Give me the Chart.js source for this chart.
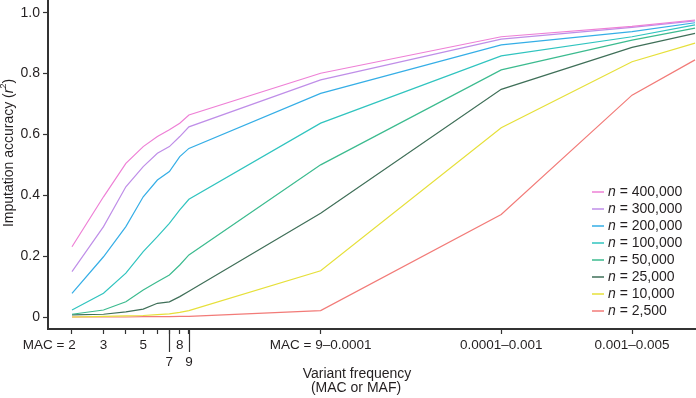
<!DOCTYPE html>
<html>
<head>
<meta charset="utf-8">
<script src="https://cdn.jsdelivr.net/npm/chart.js@4/dist/chart.umd.min.js"></script>
<style>
  html, body { margin: 0; padding: 0; background: #fff; }
  #wrap { width: 696px; height: 398px; position: relative; }
</style>
</head>
<body>
<div id="wrap"><canvas id="accChart"></canvas></div>
<script>
// x categories (MAC or MAF bins), placed on a log axis by their MAC-equivalent value
const binLabels = ['MAC = 2', '3', '', '5', '', '7', '8', '9', 'MAC = 9\u20130.0001', '0.0001\u20130.001', '0.001\u20130.005', ''];
const binValues = [2, 3, 4, 5, 6, 7, 8, 9, 49, 500, 2690, 6050];
const yTicks = [0, 0.2, 0.4, 0.6, 0.8, 1.0];

const seriesNames = ['400,000', '300,000', '200,000', '100,000', '50,000', '25,000', '10,000', '2,500'];
const seriesColors = ['#ee80d6', '#bf8ee8', '#35aee6', '#30c4bf', '#3cbb8f', '#3f6f58', '#e6e03a', '#f27b78'];

const n400k = [0.231, 0.395, 0.505, 0.560, 0.593, 0.615, 0.637, 0.664, 0.801, 0.921, 0.955, 0.976];
const n300k = [0.149, 0.297, 0.428, 0.494, 0.538, 0.560, 0.593, 0.625, 0.779, 0.913, 0.952, 0.973];
const n200k = [0.078, 0.198, 0.297, 0.395, 0.450, 0.478, 0.527, 0.554, 0.735, 0.894, 0.938, 0.967];
const n100k = [0.023, 0.078, 0.144, 0.215, 0.264, 0.308, 0.352, 0.387, 0.637, 0.858, 0.921, 0.960];
const n50k  = [0.009, 0.023, 0.050, 0.089, 0.116, 0.138, 0.171, 0.204, 0.500, 0.812, 0.910, 0.949];
const n25k  = [0.007, 0.009, 0.017, 0.026, 0.045, 0.050, 0.067, 0.085, 0.341, 0.748, 0.886, 0.932];
const n10k  = [0.000, 0.002, 0.004, 0.005, 0.008, 0.010, 0.015, 0.021, 0.152, 0.622, 0.839, 0.900];
const n2500 = [0.000, 0.000, 0.000, 0.001, 0.001, 0.001, 0.002, 0.002, 0.021, 0.337, 0.729, 0.845];
const seriesData = [n400k, n300k, n200k, n100k, n50k, n25k, n10k, n2500];

const FONT = '"Liberation Sans", Arial, Helvetica, sans-serif';
const INK = '#231f20';
const AXIS = '#333333';
const dropped = ['7', '9']; // labels hung below a long tick

const datasets = seriesData.map((vals, i) => ({
    label: 'n = ' + seriesNames[i],
    data: vals.map((v, j) => ({ x: binValues[j], y: v })),
    borderColor: seriesColors[i],
    backgroundColor: seriesColors[i],
    borderWidth: 1.2,
    pointRadius: 0,
    tension: 0,
    fill: false
}));

// x tick labels, long ticks, axis titles and legend
const decorPlugin = {
    id: 'decor',
    afterDraw(chart) {
        const ctx = chart.ctx;
        const xs = chart.scales.x;
        const area = chart.chartArea;
        ctx.save();
        ctx.fillStyle = INK;
        ctx.textBaseline = 'middle';
        ctx.font = '13.5px ' + FONT;

        binLabels.forEach((lab, i) => {
            if (!lab) return;
            const px = xs.getPixelForValue(binValues[i]);
            if (dropped.includes(lab)) {
                ctx.strokeStyle = AXIS;
                ctx.lineWidth = 1.2;
                ctx.beginPath();
                ctx.moveTo(Math.round(px) + 0.5, area.bottom);
                ctx.lineTo(Math.round(px) + 0.5, area.bottom + 23);
                ctx.stroke();
                ctx.textAlign = 'center';
                ctx.fillText(lab, px, area.bottom + 33.5);
            } else if (i === 0) {
                // keep the number itself under its tick
                const w = ctx.measureText('2').width;
                ctx.textAlign = 'right';
                ctx.fillText(lab, px + w / 2, area.bottom + 16);
            } else {
                ctx.textAlign = 'center';
                ctx.fillText(lab, px, area.bottom + 16);
            }
        });

        // x title
        ctx.font = '14px ' + FONT;
        ctx.textAlign = 'center';
        ctx.fillText('Variant frequency', 357, 374);
        ctx.fillText('(MAC or MAF)', 356, 388);

        // y title with italic r and superscript 2
        ctx.save();
        ctx.translate(9, 153);
        ctx.rotate(-Math.PI / 2);
        ctx.textAlign = 'left';
        const parts = [
            { t: 'Imputation accuracy (', f: '14px ' + FONT, dy: 0 },
            { t: 'r', f: 'italic 14px ' + FONT, dy: 0 },
            { t: '2', f: '9px ' + FONT, dy: -5 },
            { t: ')', f: '14px ' + FONT, dy: 0 }
        ];
        let total = 0;
        parts.forEach(p => { ctx.font = p.f; p.w = ctx.measureText(p.t).width; total += p.w; });
        let cx = -total / 2;
        parts.forEach(p => { ctx.font = p.f; ctx.fillText(p.t, cx, p.dy); cx += p.w; });
        ctx.restore();

        // legend
        seriesNames.forEach((name, i) => {
            const y = 192 + i * 17;
            ctx.strokeStyle = seriesColors[i];
            ctx.lineWidth = 1.5;
            ctx.beginPath();
            ctx.moveTo(592, y);
            ctx.lineTo(604, y);
            ctx.stroke();
            ctx.textAlign = 'left';
            ctx.font = 'italic 14px ' + FONT;
            ctx.fillText('n', 608, y);
            const nw = ctx.measureText('n').width;
            ctx.font = '14px ' + FONT;
            ctx.fillText(' = ' + name, 608 + nw, y);
        });
        ctx.restore();
    }
};

const ctxAcc = document.getElementById('accChart').getContext('2d');
new Chart(ctxAcc, {
    type: 'line',
    data: { datasets: datasets },
    options: {
        responsive: true,
        maintainAspectRatio: false,
        animation: false,
        layout: { padding: 0, autoPadding: false },
        scales: {
            x: {
                type: 'logarithmic',
                bounds: 'data',
                min: 1.469,
                max: 6125,
                afterBuildTicks: (s) => {
                    s.ticks = binValues.slice(0, 11).map(v => ({ value: v }));
                },
                afterFit: (s) => {
                    s.height = 69;
                    s.paddingLeft = 0;
                    s.paddingRight = 0;
                },
                grid: {
                    drawOnChartArea: false,
                    drawTicks: true,
                    tickLength: 5,
                    tickColor: AXIS,
                    tickWidth: 1.2
                },
                border: { display: true, color: AXIS, width: 2 },
                ticks: { display: false, autoSkip: false }
            },
            y: {
                type: 'linear',
                bounds: 'data',
                min: -0.0394,
                max: 1.0417,
                afterBuildTicks: (s) => {
                    s.ticks = yTicks.map(v => ({ value: v }));
                },
                afterFit: (s) => {
                    s.width = 48;
                    s.paddingTop = 0;
                    s.paddingBottom = 0;
                },
                grid: {
                    drawOnChartArea: false,
                    drawTicks: true,
                    tickLength: 5,
                    tickColor: AXIS,
                    tickWidth: 1.2
                },
                border: { display: true, color: AXIS, width: 2 },
                ticks: {
                    color: INK,
                    padding: 3,
                    font: { family: FONT, size: 14 },
                    callback: (v) => v === 0 ? '0' : v.toFixed(1)
                }
            }
        },
        plugins: {
            legend: { display: false },
            tooltip: { enabled: false }
        }
    },
    plugins: [decorPlugin]
});
</script>
</body>
</html>
